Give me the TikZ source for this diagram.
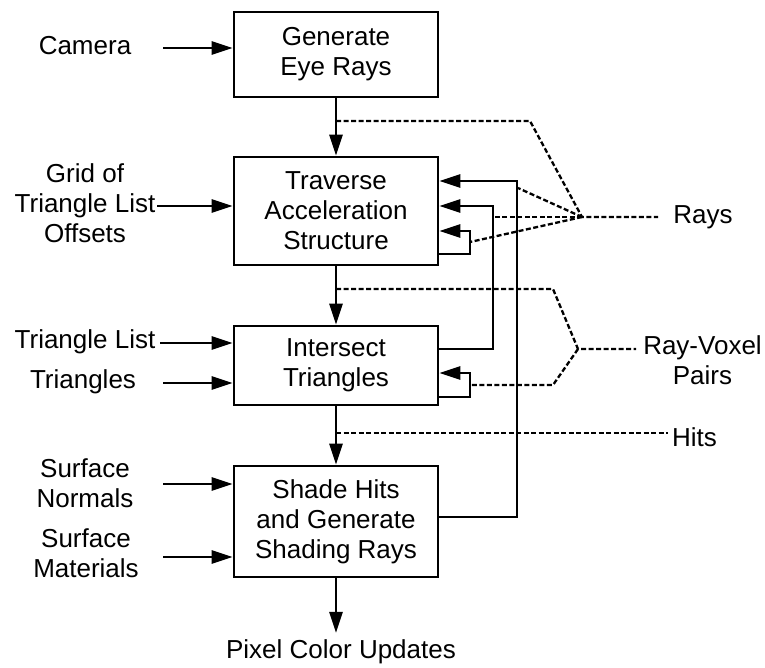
\documentclass[tikz,border=0pt]{standalone}
\usepackage{fontspec}
\setmainfont{Liberation Sans}
\usetikzlibrary{arrows.meta,calc}
\begin{document}
\begin{tikzpicture}[x=1pt,y=-1pt,
  every node/.style={font=\fontsize{26}{30}\selectfont, inner sep=0pt},
  box/.style={draw, line width=2.8pt, minimum width=204pt, align=center},
  lbl/.style={align=center},
  arr/.style={line width=2.8pt, -{Triangle[length=21pt,width=13pt]}},
  dsh/.style={line width=2.3pt, dash pattern=on 5pt off 2.5pt}
]
\useasboundingbox (0,0) rectangle (765,667);

% process boxes
\node[box, minimum height=85pt]  (b1) at (336,54.5)  {Generate\\Eye Rays};
\node[box, minimum height=108pt] (b2) at (336,211)   {Traverse\\Acceleration\\Structure};
\node[box, minimum height=79pt]  (b3) at (336,365.5) {Intersect\\Triangles};
\node[box, minimum height=111pt] (b4) at (336,521.5) {Shade Hits\\and Generate\\Shading Rays};

% main flow
\draw[arr] (b1) -- (b2);
\draw[arr] (b2) -- (b3);
\draw[arr] (b3) -- (b4);
\node[anchor=base] (out) at (341,658) {Pixel Color Updates};
\draw[arr] (b4.south) -- ($(b4.south |- out.north)+(0,-6)$);

% left inputs
\node[lbl] (cam) at (85,46) {Camera};
\coordinate (camA) at (163,48);
\draw[arr] (camA) -- (camA -| b1.west);

\node[lbl] (grid) at (85,203.5) {Grid of\\Triangle List\\Offsets};
\coordinate (gridA) at (157,206);
\draw[arr] (gridA) -- (gridA -| b2.west);

\node[anchor=base] (tl) at (85,348) {Triangle List};
\coordinate (tlA) at (160,343);
\draw[arr] (tlA) -- (tlA -| b3.west);

\node[anchor=base] (tri) at (83,388) {Triangles};
\coordinate (triA) at (163,383);
\draw[arr] (triA) -- (triA -| b3.west);

\node[lbl] (sn) at (85,483.5) {Surface\\Normals};
\coordinate (snA) at (163,484);
\draw[arr] (snA) -- (snA -| b4.west);

\node[lbl] (sm) at (86,553.5) {Surface\\Materials};
\coordinate (smA) at (163,557);
\draw[arr] (smA) -- (smA -| b4.west);

% feedback connectors
\coordinate (k1) at (517,181);
\draw[arr] ([yshift=4.5pt]b4.east) -| (k1) -- (k1 -| b2.east);
\coordinate (k2) at (493,206);
\draw[arr] ([yshift=16.5pt]b3.east) -| (k2) -- (k2 -| b2.east);
\coordinate (k3) at (470,231);
\draw[arr] ([yshift=-43pt]b2.east) -| (k3) -- (k3 -| b2.east);
\coordinate (k4) at (470,373);
\draw[arr] ([yshift=-31.5pt]b3.east) -| (k4) -- (k4 -| b3.east);

% dashed data streams
\node[anchor=base] (rays) at (703,223) {Rays};
\node[lbl] (rvp) at (702.5,360.5) {Ray-Voxel\\Pairs};
\node[anchor=base] (hits) at (694.5,446) {Hits};

\coordinate (d1) at (336,121);
\coordinate (rj) at (582,217);
\draw[dsh] (d1) -- (530,121) -- (rj) -- (658,217);
\draw[dsh] (rj) -- (518,188);
\draw[dsh] (rj) -- (493,217);
\draw[dsh] (rj) -- (470,242);

\coordinate (d2) at (336,289);
\coordinate (vj) at (578,349);
\draw[dsh] (d2) -- (553,289) -- (vj) -- (636,349);
\draw[dsh] (vj) -- (553,385) -- (470,385);

\coordinate (d3) at (336,433);
\draw[dsh] (d3) -- (668,433);
\end{tikzpicture}
\end{document}
